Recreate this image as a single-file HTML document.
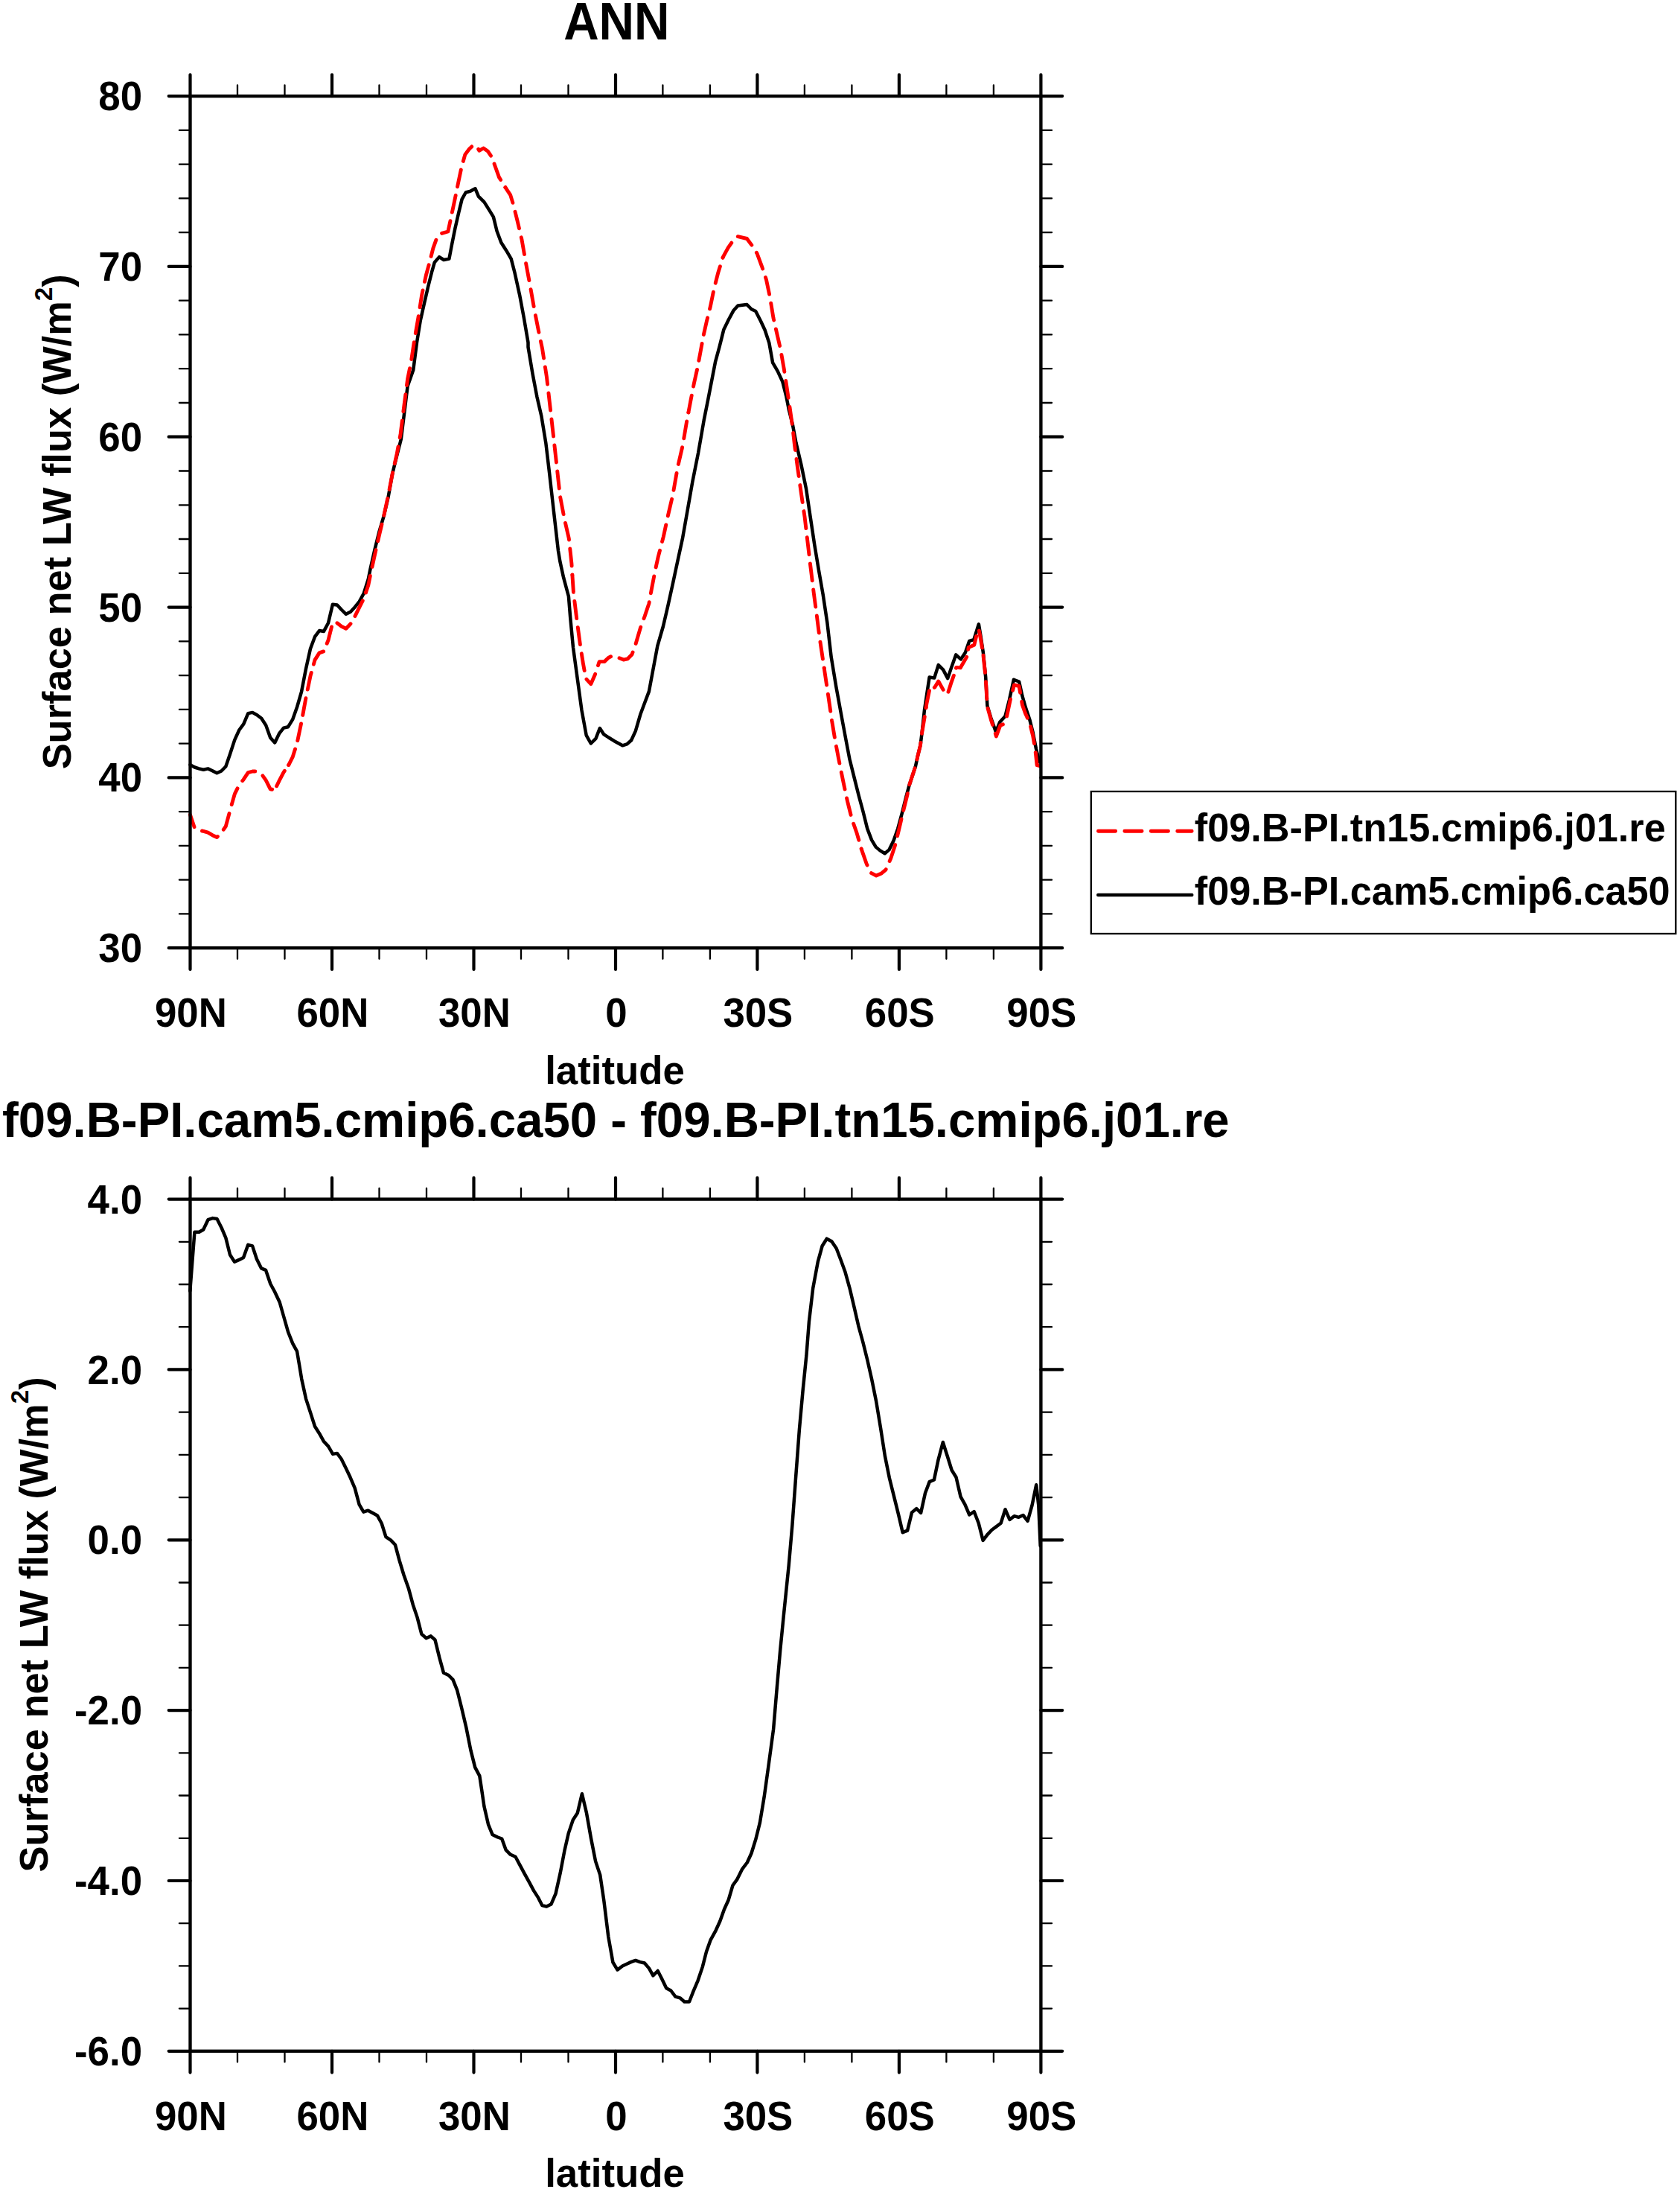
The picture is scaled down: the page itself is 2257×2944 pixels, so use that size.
<!DOCTYPE html>
<html lang="en"><head><meta charset="utf-8"><title>ANN Surface net LW flux</title>
<style>html,body{margin:0;padding:0;background:#fff}svg{display:block}text{font-family:"Liberation Sans", sans-serif;font-weight:bold;fill:#000}</style>
</head><body>
<svg width="2257" height="2944" viewBox="0 0 2257 2944">
<rect x="0" y="0" width="2257" height="2944" fill="#fff"/>
<path d="M255.5 1027.1L261.5 1030.5L267.4 1032.4L273.4 1033.8L279.4 1032.4L285.4 1035.2L291.4 1038.3L297.4 1035.5L303.3 1029.5L309.3 1012.1L315.3 993.6L321.3 980.5L327.3 972.4L333.3 958.1L339.2 956.9L345.2 960.2L351.2 964.8L357.2 974L363.2 990.7L369.2 997.4L375.1 985.2L381.1 977.6L387.1 976.2L393.1 966.4L399.1 949.5L405.1 928.8L411 898.3L417 871.2L423 855.2L429 847.1L435 847.9L441 836.7L446.9 811.7L452.9 812.4L458.9 819L464.9 824.8L470.9 821.7L476.9 815.2L482.8 807.9L488.8 796.7L494.8 777.6L497.6 763.8L503.6 737.6L509.5 713.8L515.5 693.6L521.4 668.6L527.4 635.2L533.3 611.4L538.8 590L542.9 556.7L547.6 518.6L555.2 497.1L560 460L564.8 430.5L569.5 409.5L575.2 384.8L580 365.7L583.8 352.4L590.1 345.1L596.2 349L603.4 347.6L607.2 327.6L611.4 306.7L616.2 285.7L620.6 267.6L625.7 258.5L632.4 256.6L638.5 253.3L642.9 263.8L650.5 271.4L657.1 281.9L662.9 291.4L667.6 310.5L673.3 325.7L680 336.2L686.7 347.6L691.4 365.7L698.1 396.2L703.8 426.7L709.5 460L709.5 466.2L715.5 501.9L721.4 532.9L727.4 559L733.3 594.8L738.1 635.2L744 687.6L750 740L752.4 754.3L757.1 775.7L763.9 801L766.2 829.5L770 869.5L775.7 911.4L781.4 953.3L787.7 987.6L793.8 998.5L800.5 991.8L805.8 978.1L811 986.1L817.6 990.5L825.2 995.2L836.3 1001.3L842.4 999.4L848.1 994.3L853.8 981.9L860.5 959L866.2 943.8L871.9 928.6L877.6 898.1L883.3 867.6L891 841L897.6 812.4L904.3 781.9L910 755.2L917.1 722.4L923.8 684.3L930.5 646.2L938.1 608.1L945.7 564.3L951.4 535.7L956.2 511L961 486.2L966.7 465.2L972.4 442.4L979 429L985.7 416.7L991.4 410.4L1003.4 409L1009.5 415.3L1015.2 418L1021.9 431L1027.6 443.3L1033.3 460.5L1038.1 487.1L1044.8 498.6L1051.4 512.9L1056.2 531.9L1060 551L1064.8 570L1069.5 594.8L1076.2 623.3L1082.9 655.7L1088.6 693.8L1094.3 731.9L1100 766.2L1105.7 798.6L1111.4 836.7L1116.7 882.4L1123.3 922.4L1131 964.3L1136.7 994.8L1141.4 1019.5L1147.1 1042.4L1153.8 1069L1159.5 1090L1165.2 1112.9L1171 1128.1L1176.7 1137.6L1182.4 1142.4L1188.7 1146.2L1194.4 1141.4L1200.5 1129L1206.2 1112.9L1211.9 1091.9L1217.6 1069L1221.7 1054.2L1230 1029L1233 1015L1236.5 1001L1238.5 985L1242 953.3L1245.3 931.4L1248.6 909.5L1255.2 910.6L1260.7 893.1L1267.2 899.6L1273.2 911.1L1278.2 896.4L1284.2 879.4L1290.8 885.4L1296.8 876.6L1302.3 860.8L1308.3 859.1L1314.9 838.3L1317.6 854.7L1320.9 876.6L1324.2 909.5L1326.4 947.8L1331.3 964.2L1337.9 982.9L1343.3 969.7L1350.4 962L1355.9 940.2L1361.9 912.8L1369.1 915.5L1373.4 934.7L1377.8 950L1383.3 966.4L1387.7 983.9L1392 1005.8L1396.4 1023.4" fill="none" stroke="#000" stroke-width="4.5" stroke-linejoin="round" stroke-linecap="round"/>
<g fill="none" stroke="#ff0000" stroke-width="4.9" stroke-linejoin="round" stroke-linecap="round">
<path d="M255.5 1094.3L261.5 1112.1L267.4 1115.2L273.4 1116.4L279.4 1118.1L285.4 1121.7L291.4 1124.5L297.4 1118.6L303.3 1109.8L309.3 1087.6L315.3 1066.4L321.3 1054.3L327.3 1046.7L333.3 1037.6L339.2 1036L345.2 1036L351.2 1039.5L352.9 1041.8" stroke-dasharray="23.2 12.3" stroke-dashoffset="5.9"/>
<path d="M352.9 1041.8L357.2 1047.9L363.2 1059.8L369.2 1061L375.1 1048.6L381.1 1037.1L387.1 1028.8L387.8 1027.4" stroke-dasharray="23.2 9.45"/>
<path d="M387.8 1027.4L393.1 1016.9L399.1 997.9L405.1 969.3L411 937.1L417 907.9L423 886.4L429 876.9L435 874.8L441 859.8L446.9 836.4L452.9 836.7L458.9 841.4L464.9 844.3L470.9 837.9L476.9 827.6L482.8 815.7L488.8 803.8L491.5 795.8" stroke-dasharray="23.2 11.75"/>
<path d="M491.5 795.8L494.8 786L497.6 772.1L503.6 744.8L509.5 718.6L515.5 693.6L521.4 666.2L527.4 635.2L533.3 609L538.1 582.9L542.9 544.8L547.6 509L552.4 485.2L557.1 454.3L558.3 447.5" stroke-dasharray="23.2 12.3"/>
<path d="M558.3 447.5L561.9 426.7L566.7 396.2L572.4 369.5L577.1 352.4L581.9 333.3L586.7 320L593.3 313.5L601.9 311L605.7 293.3L610.5 270.5L615.2 247.6L620 224.8L624.8 207.6L630.5 200L635.8 194.9L641.9 199L643.8 202.3L649.5 199L655.2 202.9L661 211.4L665.7 224.8L670.5 238.1L678.1 250.5L678.9 251.7" stroke-dasharray="23.2 11.91"/>
<path d="M678.9 251.7L685.7 261.9L689.5 274.3L695.2 297.1L701 321.9L706.7 354.3L712.4 384.8L718.1 417.1L723.8 445.7L726.4 458.3" stroke-dasharray="23.2 12.3"/>
<path d="M726.4 458.3L728.6 468.6L734.5 506.7L740.5 559L746.4 611.4L752.4 666.2L758.3 697.1L764.3 723.3L767.9 756.7L768.9 772.1" stroke-dasharray="23.2 12.01"/>
<path d="M768.9 772.1L770.4 795.2L774.8 831.4L779.9 869.5L781.3 877.8" stroke-dasharray="23.2 12.3"/>
<path d="M781.3 877.8L783.3 890.5L787.1 911.4L793.8 918.7L799.5 905.7L805.2 888.6L811.9 888.6L817.6 883.2L823.3 880.6L831.9 883.8L837.6 886.1L843.3 884.8L849 879L853.8 865.7L860.5 842.9L866.2 827.6L871.9 810.5L875.7 789.5L880.5 764.8L884.3 747.6L891.4 720.5L897.1 693.8L903.8 665.2L910.5 627.1L917.1 598.6L922.9 564.3L924.9 553.9" stroke-dasharray="23.2 12.24"/>
<path d="M924.9 553.9L927.6 539.5L932.4 514.8L937.1 493.8L941 472.9L944.8 451.9L949.5 431L954.3 411.9L959 389L964.8 366.2L971.1 346.1" stroke-dasharray="23.2 12.3"/>
<path d="M971.1 346.1L971.4 345.2L978.1 332.9L984.8 323.3L990.9 317.6L1003.4 320.5L1010.5 330L1017.1 340.5L1023.8 358.6L1029.5 375.7L1034.3 398.6L1039 427.1L1043.8 448.1L1048.6 469L1053.3 495.7L1057.1 520.5L1061 547.1L1064.8 573.8L1067.6 598.6L1071.4 627.1L1076.2 661.4L1081 693.8L1084.8 726.2L1088.6 758.6L1093.3 796.7L1097.1 825.2L1101 855.7L1107.2 897.1" stroke-dasharray="23.2 12.18"/>
<path d="M1107.2 897.1L1108.1 903.3L1112.9 935.7L1117.6 968.1L1122.4 996.7L1127.1 1021.4L1132.9 1050L1138.6 1076.7L1144.3 1099.5L1151 1118.6L1157.2 1140.1" stroke-dasharray="23.2 12.3"/>
<path d="M1157.2 1140.1L1157.6 1141.4L1164.3 1160.5L1170 1172.3L1177.2 1176.1L1184.3 1172.9L1190 1168.1L1196.7 1152.9L1202.4 1135.7L1207.1 1116.7L1212.9 1091.9L1218.6 1069L1221.7 1054.2L1221.8 1053.8" stroke-dasharray="23.2 12.2"/>
<path d="M1221.8 1053.8L1230 1029L1233 1015L1236.5 1001L1238.5 985L1242 964.2L1244.1 950.5" stroke-dasharray="23.2 12.1"/>
<path d="M1244.1 950.5L1244.8 945.6L1248.6 927L1255.7 923.2L1260.7 915L1267.8 927.6L1273.8 929.7L1274 929.2" stroke-dasharray="23.2 8.3"/>
<path d="M1274 929.2L1278.2 916.1L1281.5 906.8L1284.7 896.4L1290.2 896.9L1295.7 887.6L1299.5 881L1301.2 869.5L1308.8 866.2L1312.1 852.6L1315.2 846L1317.6 859.1L1320.9 878.8L1321 880.3" stroke-dasharray="23.2 10.45"/>
<path d="M1321 880.3L1324.2 910.6L1326.4 948.9L1331.3 966.4L1338.4 988.9L1343.9 974.1L1348.3 972.5L1352.6 962L1357 941.2L1362.5 919.9L1369.1 921.5L1373.4 946.7L1377.8 958.8L1383.3 970.8L1387.7 988.3L1391 1008L1391.3 1011" stroke-dasharray="23.2 12.43"/>
<path d="M1391.3 1011L1393.1 1027.7L1397.5 1028.8" stroke-dasharray="23.2 12.3"/>
</g>
<g stroke="#000" fill="none" stroke-linecap="round">
<rect x="255.5" y="129.1" width="1142.9" height="1144.1" stroke-width="4.35" stroke-linejoin="miter"/>
<path d="M255.5 129.1V100.3M255.5 1273.2V1302M446 129.1V100.3M446 1273.2V1302M636.5 129.1V100.3M636.5 1273.2V1302M827 129.1V100.3M827 1273.2V1302M1017.4 129.1V100.3M1017.4 1273.2V1302M1207.9 129.1V100.3M1207.9 1273.2V1302M1398.4 129.1V100.3M1398.4 1273.2V1302M255.5 129.1H226.7M1398.4 129.1H1427.2M255.5 357.9H226.7M1398.4 357.9H1427.2M255.5 586.7H226.7M1398.4 586.7H1427.2M255.5 815.6H226.7M1398.4 815.6H1427.2M255.5 1044.4H226.7M1398.4 1044.4H1427.2M255.5 1273.2H226.7M1398.4 1273.2H1427.2" stroke-width="4.2"/>
<path d="M319 129.1V114.5M319 1273.2V1287.8M382.5 129.1V114.5M382.5 1273.2V1287.8M509.5 129.1V114.5M509.5 1273.2V1287.8M573 129.1V114.5M573 1273.2V1287.8M700 129.1V114.5M700 1273.2V1287.8M763.5 129.1V114.5M763.5 1273.2V1287.8M890.4 129.1V114.5M890.4 1273.2V1287.8M953.9 129.1V114.5M953.9 1273.2V1287.8M1080.9 129.1V114.5M1080.9 1273.2V1287.8M1144.4 129.1V114.5M1144.4 1273.2V1287.8M1271.4 129.1V114.5M1271.4 1273.2V1287.8M1334.9 129.1V114.5M1334.9 1273.2V1287.8M255.5 174.9H240.9M1398.4 174.9H1413M255.5 220.6H240.9M1398.4 220.6H1413M255.5 266.4H240.9M1398.4 266.4H1413M255.5 312.2H240.9M1398.4 312.2H1413M255.5 403.7H240.9M1398.4 403.7H1413M255.5 449.4H240.9M1398.4 449.4H1413M255.5 495.2H240.9M1398.4 495.2H1413M255.5 541H240.9M1398.4 541H1413M255.5 632.5H240.9M1398.4 632.5H1413M255.5 678.3H240.9M1398.4 678.3H1413M255.5 724H240.9M1398.4 724H1413M255.5 769.8H240.9M1398.4 769.8H1413M255.5 861.3H240.9M1398.4 861.3H1413M255.5 907.1H240.9M1398.4 907.1H1413M255.5 952.9H240.9M1398.4 952.9H1413M255.5 998.6H240.9M1398.4 998.6H1413M255.5 1090.1H240.9M1398.4 1090.1H1413M255.5 1135.9H240.9M1398.4 1135.9H1413M255.5 1181.7H240.9M1398.4 1181.7H1413M255.5 1227.4H240.9M1398.4 1227.4H1413" stroke-width="2.3"/>
</g>
<text transform="translate(828.35 52.7) scale(0.943 1)" font-size="69.7" text-anchor="middle">ANN</text>
<text transform="translate(191 148.2) scale(0.943 1)" font-size="56" text-anchor="end">80</text>
<text transform="translate(191 377.02) scale(0.943 1)" font-size="56" text-anchor="end">70</text>
<text transform="translate(191 605.84) scale(0.943 1)" font-size="56" text-anchor="end">60</text>
<text transform="translate(191 834.66) scale(0.943 1)" font-size="56" text-anchor="end">50</text>
<text transform="translate(191 1063.48) scale(0.943 1)" font-size="56" text-anchor="end">40</text>
<text transform="translate(191 1292.3) scale(0.943 1)" font-size="56" text-anchor="end">30</text>
<text transform="translate(256.4 1379) scale(0.951 1)" font-size="55.5" text-anchor="middle">90N</text>
<text transform="translate(446.88 1379) scale(0.951 1)" font-size="55.5" text-anchor="middle">60N</text>
<text transform="translate(637.37 1379) scale(0.951 1)" font-size="55.5" text-anchor="middle">30N</text>
<text transform="translate(827.85 1379) scale(0.951 1)" font-size="55.5" text-anchor="middle">0</text>
<text transform="translate(1018.33 1379) scale(0.951 1)" font-size="55.5" text-anchor="middle">30S</text>
<text transform="translate(1208.82 1379) scale(0.951 1)" font-size="55.5" text-anchor="middle">60S</text>
<text transform="translate(1399.3 1379) scale(0.951 1)" font-size="55.5" text-anchor="middle">90S</text>
<text transform="translate(826 1455.7) scale(1 1)" font-size="52.8" text-anchor="middle">latitude</text>
<text transform="translate(95.3 700.8) rotate(-90) scale(0.9775 1)" font-size="53.65" text-anchor="middle">Surface net LW flux (W/m<tspan font-size="34" dy="-25.5">2</tspan><tspan dy="25.5">)</tspan></text>
<rect x="1465.8" y="1063" width="785.5" height="191" fill="#fff" stroke="#000" stroke-width="2.3"/>
<path d="M1475.45 1116.3H1601.15" stroke="#ff0000" stroke-width="4.9" stroke-linecap="round" stroke-dasharray="23.2 12.23" fill="none"/>
<path d="M1475.2 1202H1601.3" stroke="#000" stroke-width="4.4" stroke-linecap="round" fill="none"/>
<text transform="translate(1604.8 1129.6) scale(0.9775 1)" font-size="53.45" text-anchor="start">f09.B-PI.tn15.cmip6.j01.re</text>
<text transform="translate(1604.8 1215.3) scale(0.9775 1)" font-size="53.45" text-anchor="start">f09.B-PI.cam5.cmip6.ca50</text>
<path d="M255.3 1733.8L261.4 1654.8L267.5 1654.8L273.2 1651.5L279.5 1638.2L285.8 1636.1L291.5 1637L297.6 1649L303.3 1662.4L309 1685.2L315.1 1694.8L321.4 1691.9L327.1 1689L333.2 1671.9L339.1 1673.4L344.9 1691L351 1703.3L357 1705.8L363.3 1724.3L369 1734.8L375.7 1749L381.4 1769L387.1 1789L393.2 1804.3L399 1814.8L402.4 1834.8L405.2 1851.9L411 1878.6L417.2 1897.6L423 1915.7L429 1925.2L434.8 1935.7L441 1942.4L447.1 1952.9L452.9 1951.9L458.6 1959.5L464.3 1971L470.6 1984.3L476.7 1998.6L482.4 2019.9L482.6 2020.7L488.4 2030.7L494.5 2028.7L500.6 2032L506.9 2035.4L512.7 2046L518.4 2064.2L525.1 2068.6L530.9 2074.7L536.6 2095.8L542.4 2115L549.1 2134.1L554.8 2155.2L560.6 2172.4L566.3 2194.5L572.5 2200.2L578.8 2197.4L584.5 2202.5L590.3 2226.1L596 2246.8L602.7 2250L608.5 2255.8L614.2 2270.2L620 2293.2L626.3 2320L632.4 2350.6L638.2 2373.6L644.3 2385.1L647.3 2404.8L650.4 2426L656 2450.3L661.5 2463.9L668.6 2467.5L674.2 2469.5L679.7 2484.7L685.8 2490.8L692.5 2493.8L697.9 2503.9L705 2517.1L711.1 2528.2L717.1 2539.4L723.2 2548.9L728.3 2559L734.3 2560.6L740.4 2557.6L746.5 2543.4L752.6 2516.1L758.6 2484.7L763.7 2462.4L769.8 2444.2L775.8 2435.1L781.9 2409.2L788 2435.1L794.1 2469.5L800.1 2499.9L806.2 2518.1L811.3 2552.5L817.3 2601.1L823.4 2635.5L829.5 2645.6L836.2 2640.5L842.6 2637.5L847.7 2635.1L853.8 2632.9L859.8 2635.1L865.9 2636.5L872 2643.6L877.4 2653.3L883.7 2647L889.2 2657.7L895.2 2670.3L901.3 2673.5L907.4 2681.6L913.5 2683.3L919.5 2688.5L926 2688.5L931.7 2673.9L937.7 2659.8L943.8 2641.6L949 2621.3L954.7 2605.3L961.6 2592.8L967.3 2580.2L973 2564.3L978.7 2551.7L984.4 2532.3L990.1 2524.4L996.9 2510.7L1003.8 2501.5L1009.5 2489L1015.2 2470.7L1020.9 2447.9L1026.6 2413.7L1032.3 2372.7L1039.1 2322.5L1043.7 2267.7L1048.3 2215.3L1052.8 2169.7L1059.7 2102.6L1064.4 2048L1069.1 1984L1073.9 1919.9L1078.6 1867.7L1083.4 1820.3L1086.9 1775.2L1092.2 1730.1L1098.8 1694.6L1104.7 1673.2L1110.7 1663.7L1117.3 1667.3L1123.7 1676.8L1129.6 1692.2L1135.6 1708.8L1141.5 1730.1L1147.4 1755.1L1153.4 1781.1L1159.3 1802.5L1165.2 1826.2L1171.1 1852.3L1177.1 1882L1183 1917.6L1188.9 1955.5L1194.9 1985.2L1200.8 2008.9L1206.7 2032.6L1212.7 2058.2L1219.1 2055.6L1225 2031.4L1231.2 2026.2L1237.1 2031.9L1243 2005.3L1248.7 1990.1L1254.9 1987.5L1260.6 1960.3L1266.8 1937L1272.7 1955.5L1278.6 1974.5L1284.5 1984L1290.5 2010.1L1296.4 2020.7L1302.3 2034.5L1308.7 2030.2L1314.7 2045.7L1320.6 2068.9L1326.5 2061.1L1332.5 2054.7L1338.4 2050.4L1344.6 2045.7L1350.5 2027.2L1356.4 2040.9L1362.6 2036.2L1368.5 2037.8L1374.5 2035L1380.6 2042.8L1386.5 2021.9L1392.2 1994.2L1395.3 2021.9L1397.7 2076.5" fill="none" stroke="#000" stroke-width="4.5" stroke-linejoin="round" stroke-linecap="round"/>
<g stroke="#000" fill="none" stroke-linecap="round">
<rect x="255.5" y="1610.6" width="1142.9" height="1144.2" stroke-width="4.35" stroke-linejoin="miter"/>
<path d="M255.5 1610.6V1581.8M255.5 2754.8V2783.6M446 1610.6V1581.8M446 2754.8V2783.6M636.5 1610.6V1581.8M636.5 2754.8V2783.6M827 1610.6V1581.8M827 2754.8V2783.6M1017.4 1610.6V1581.8M1017.4 2754.8V2783.6M1207.9 1610.6V1581.8M1207.9 2754.8V2783.6M1398.4 1610.6V1581.8M1398.4 2754.8V2783.6M255.5 1610.6H226.7M1398.4 1610.6H1427.2M255.5 1839.4H226.7M1398.4 1839.4H1427.2M255.5 2068.3H226.7M1398.4 2068.3H1427.2M255.5 2297.1H226.7M1398.4 2297.1H1427.2M255.5 2526H226.7M1398.4 2526H1427.2M255.5 2754.8H226.7M1398.4 2754.8H1427.2" stroke-width="4.2"/>
<path d="M319 1610.6V1596M319 2754.8V2769.4M382.5 1610.6V1596M382.5 2754.8V2769.4M509.5 1610.6V1596M509.5 2754.8V2769.4M573 1610.6V1596M573 2754.8V2769.4M700 1610.6V1596M700 2754.8V2769.4M763.5 1610.6V1596M763.5 2754.8V2769.4M890.4 1610.6V1596M890.4 2754.8V2769.4M953.9 1610.6V1596M953.9 2754.8V2769.4M1080.9 1610.6V1596M1080.9 2754.8V2769.4M1144.4 1610.6V1596M1144.4 2754.8V2769.4M1271.4 1610.6V1596M1271.4 2754.8V2769.4M1334.9 1610.6V1596M1334.9 2754.8V2769.4M255.5 1667.8H240.9M1398.4 1667.8H1413M255.5 1725H240.9M1398.4 1725H1413M255.5 1782.2H240.9M1398.4 1782.2H1413M255.5 1896.7H240.9M1398.4 1896.7H1413M255.5 1953.9H240.9M1398.4 1953.9H1413M255.5 2011.1H240.9M1398.4 2011.1H1413M255.5 2125.5H240.9M1398.4 2125.5H1413M255.5 2182.7H240.9M1398.4 2182.7H1413M255.5 2239.9H240.9M1398.4 2239.9H1413M255.5 2354.3H240.9M1398.4 2354.3H1413M255.5 2411.5H240.9M1398.4 2411.5H1413M255.5 2468.8H240.9M1398.4 2468.8H1413M255.5 2583.2H240.9M1398.4 2583.2H1413M255.5 2640.4H240.9M1398.4 2640.4H1413M255.5 2697.6H240.9M1398.4 2697.6H1413" stroke-width="2.3"/>
</g>
<text transform="translate(827.4 1526.9) scale(0.9706 1)" font-size="67.32" text-anchor="middle">f09.B-PI.cam5.cmip6.ca50 - f09.B-PI.tn15.cmip6.j01.re</text>
<text transform="translate(191 1629.7) scale(0.943 1)" font-size="56" text-anchor="end">4.0</text>
<text transform="translate(191 1858.54) scale(0.943 1)" font-size="56" text-anchor="end">2.0</text>
<text transform="translate(191 2087.38) scale(0.943 1)" font-size="56" text-anchor="end">0.0</text>
<text transform="translate(191 2316.22) scale(0.943 1)" font-size="56" text-anchor="end">-2.0</text>
<text transform="translate(191 2545.06) scale(0.943 1)" font-size="56" text-anchor="end">-4.0</text>
<text transform="translate(191 2773.9) scale(0.943 1)" font-size="56" text-anchor="end">-6.0</text>
<text transform="translate(256.4 2860.6) scale(0.951 1)" font-size="55.5" text-anchor="middle">90N</text>
<text transform="translate(446.88 2860.6) scale(0.951 1)" font-size="55.5" text-anchor="middle">60N</text>
<text transform="translate(637.37 2860.6) scale(0.951 1)" font-size="55.5" text-anchor="middle">30N</text>
<text transform="translate(827.85 2860.6) scale(0.951 1)" font-size="55.5" text-anchor="middle">0</text>
<text transform="translate(1018.33 2860.6) scale(0.951 1)" font-size="55.5" text-anchor="middle">30S</text>
<text transform="translate(1208.82 2860.6) scale(0.951 1)" font-size="55.5" text-anchor="middle">60S</text>
<text transform="translate(1399.3 2860.6) scale(0.951 1)" font-size="55.5" text-anchor="middle">90S</text>
<text transform="translate(826 2937.3) scale(1 1)" font-size="52.8" text-anchor="middle">latitude</text>
<text transform="translate(63.7 2181.9) rotate(-90) scale(0.9775 1)" font-size="53.65" text-anchor="middle">Surface net LW flux (W/m<tspan font-size="34" dy="-25.5">2</tspan><tspan dy="25.5">)</tspan></text>
</svg></body></html>
